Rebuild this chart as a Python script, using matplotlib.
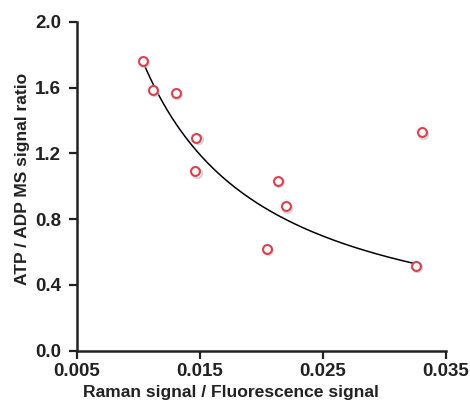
import numpy as np
import matplotlib
matplotlib.use("Agg")
import matplotlib.pyplot as plt

# data
raman_fluor = [0.01034, 0.01115, 0.01302, 0.0147, 0.01462, 0.02134, 0.02199, 0.02045, 0.03254, 0.03302]
atp_adp = [1.765, 1.587, 1.568, 1.294, 1.092, 1.033, 0.879, 0.619, 0.517, 1.329]

# power trendline y = a * x^b
fit_a = 0.0145
fit_b = -1.05
fit_range = [0.01034, 0.03254]

x_ticks = [0.005, 0.015, 0.025, 0.035]
y_ticks = [0.0, 0.4, 0.8, 1.2, 1.6, 2.0]

plt.rcParams["font.family"] = ["Liberation Sans", "DejaVu Sans"]

fig = plt.figure(figsize=(4.7, 4.05), dpi=100)
ax = fig.add_axes([0.1638, 0.134, 0.785, 0.8117])

xs = np.linspace(fit_range[0], fit_range[1], 200)
ax.plot(xs, fit_a * xs ** fit_b, color="black", lw=1.1, zorder=2)

# soft shadow under the markers
ax.plot(np.array(raman_fluor) + 0.0001, np.array(atp_adp) - 0.008, "o", ms=6.6,
        mfc="none", mec="#bbbbbb", mew=1.6, alpha=0.6, zorder=2)
ax.plot(raman_fluor, atp_adp, "o", ms=6.4, mfc="white", mec="#e0404c", mew=1.5, zorder=3)

ax.set_xlim(0.005, 0.035)
ax.set_ylim(0, 2.0)
ax.set_xticks(x_ticks)
ax.set_xticklabels([f"{t:.3f}" for t in x_ticks])
ax.set_yticks(y_ticks)
ax.set_yticklabels([f"{t:.1f}" for t in y_ticks])

for s in ["top", "right"]:
    ax.spines[s].set_visible(False)
for s in ["left", "bottom"]:
    ax.spines[s].set_linewidth(1.8)
    ax.spines[s].set_color("#222222")
ax.tick_params(direction="out", length=5.5, width=1.6, color="#222222",
               labelsize=13.5, pad=3)
ax.tick_params(axis="y", pad=6)
for lab in ax.get_xticklabels() + ax.get_yticklabels():
    lab.set_fontweight("bold")
    lab.set_color("#222222")

ax.set_xlabel("Raman signal / Fluorescence signal", fontsize=12.6,
              fontweight="bold", color="#222222")
ax.xaxis.set_label_coords(0.417, -0.105)
ax.set_ylabel("ATP / ADP MS signal ratio", fontsize=12.5,
              fontweight="bold", color="#222222")
ax.yaxis.set_label_coords(-0.127, 0.524)

fig.savefig("out.png", dpi=100)
